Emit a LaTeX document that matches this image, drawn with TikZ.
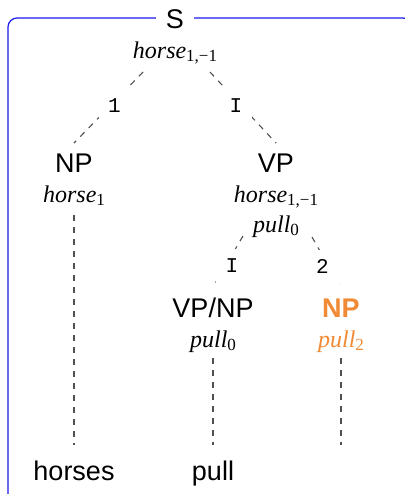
\documentclass[tikz,border=0pt]{standalone}
\usepackage{fontspec}
\setmainfont{Liberation Sans}
\newfontfamily\featfont{Liberation Serif}
\newfontfamily\idxfont{Liberation Mono}
\usepackage{xcolor}
\definecolor{framebl}{RGB}{25,25,235}
\definecolor{branchgr}{RGB}{80,80,80}
\definecolor{focusor}{RGB}{240,138,52}
\newcommand{\hd}[2]{{\featfont\itshape #1}\raisebox{-1.9pt}{\featfont\fontsize{8.5}{8.5}\selectfont #2}}

\tikzset{
  cat/.style={inner xsep=0pt, inner ysep=5pt, anchor=base, font=\fontsize{13.5}{15}\selectfont},
  feat/.style={inner sep=0pt, anchor=base, font=\fontsize{12}{14}\selectfont},
  word/.style={inner sep=0pt, anchor=base, font=\fontsize{13.5}{15}\selectfont},
  idx/.style={fill=white, inner sep=0pt, minimum width=16pt, minimum height=17pt,
    font=\idxfont\fontsize{10.5}{12}\selectfont},
  branch/.style={draw=branchgr, line width=0.55pt, dash pattern=on 3pt off 3pt},
}

\begin{document}
\begin{tikzpicture}[x=0.5pt, y=-0.5pt]
\useasboundingbox (0,0) rectangle (405,494);
\clip (0,0) rectangle (405,494);

%% frame round the whole sentence
\draw[framebl, line width=0.6pt, rounded corners=4.5pt] (8,18) rectangle (412,512);
\node[cat, fill=white, inner xsep=5pt, inner ysep=2pt] (s) at (175,28) {S};
\node[feat] (rt) at (175,58) {\hd{horse}{1,−1}};

%% left daughter
\node[cat] (np)  at (74,172) {NP};
\node[feat] (nph) at (74,202) {\hd{horse}{1}};

%% right daughter
\node[cat] (vp)   at (276,172) {VP};
\node[feat] (vph)  at (276,202) {\hd{horse}{1,−1}};
\node[feat] (vph2) at (276,232) {\hd{pull}{0}};

\node[cat] (vnp) at (213,317) {VP/NP};
\node[feat] (vnh) at (213,347) {\hd{pull}{0}};

\node[cat, font=\fontsize{13.5}{15}\selectfont\bfseries, text=focusor] (np2) at (341,317) {NP};
\node[feat, text=focusor] (nph2) at (341,347) {\hd{pull}{2}};

%% words
\node[word] (w1) at (74,480)  {horses};
\node[word] (w2) at (213,480) {pull};
\coordinate (gap) at (341,445);

%% branches
\draw[branch] ([shift={(-32,14)}]rt.base) -- node[idx, shift={(6,-2)}] (l1) {1} (np.north);
\draw[branch] ([shift={(35,14)}]rt.base) -- node[idx, shift={(-7,-2)}] (l2) {I} (vp.north);
\draw[branch] ([shift={(-33,4)}]vph2.base) -- node[idx, shift={(4,4)}] (l3) {I} (vnp.north);
\draw[branch] ([shift={(36,5)}]vph2.base) -- node[idx, shift={(-4,4)}] (l4) {2} (np2.north);

\draw[branch] ([shift={(0,13)}]nph.base) -- ([shift={(0,-35)}]w1.base);
\draw[branch] ([shift={(0,11)}]vnh.base) -- ([shift={(0,-35)}]w2.base);
\draw[branch] ([shift={(0,11)}]nph2.base) -- (gap);

\end{tikzpicture}
\end{document}
